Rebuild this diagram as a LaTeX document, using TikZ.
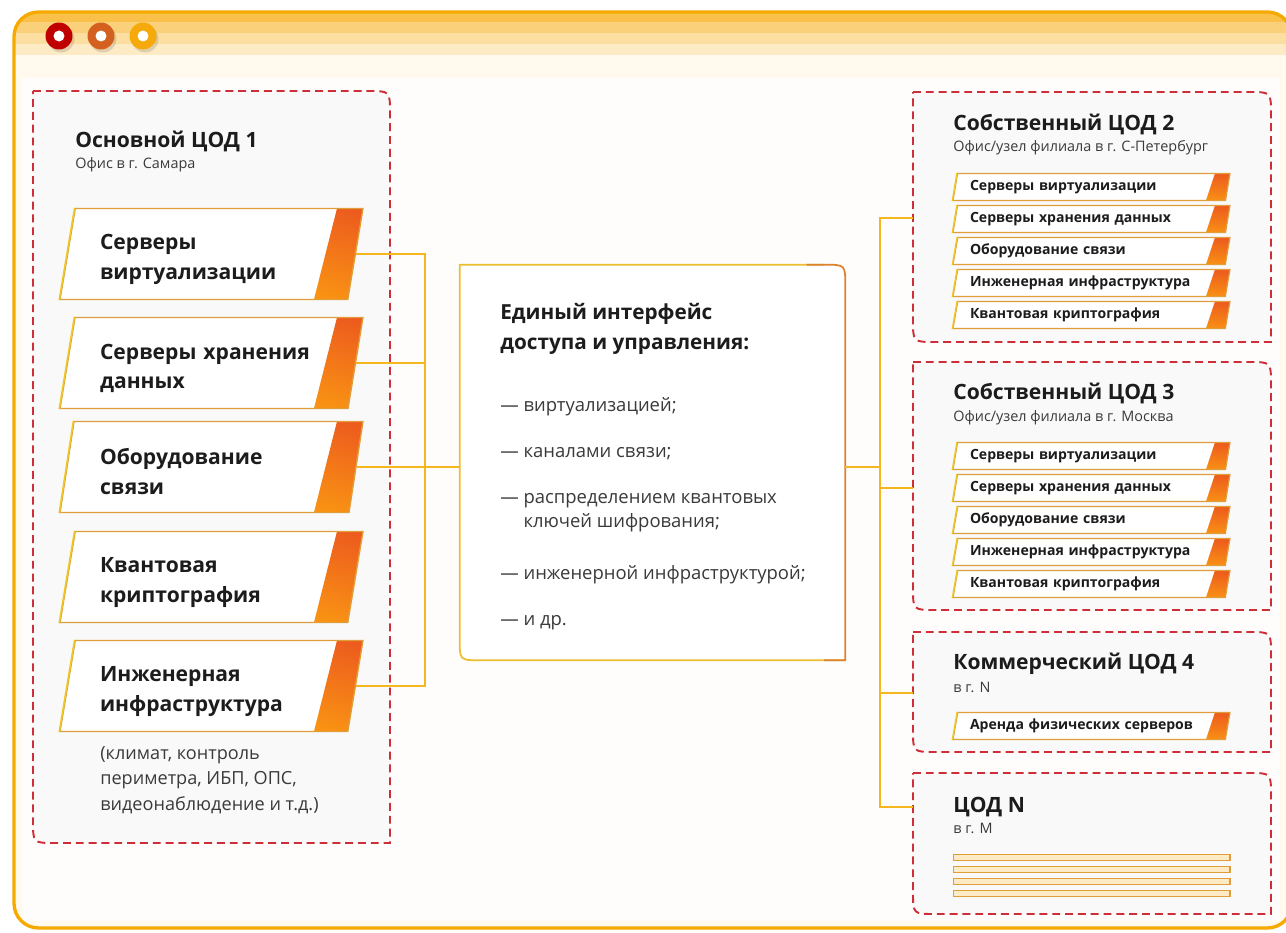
\documentclass[tikz,border=0pt]{standalone}
\usepackage{fontspec}
\setmainfont{Open Sans}
\usetikzlibrary{positioning,shapes.geometric,calc,shadings}
\definecolor{cred}{RGB}{206,46,56}
\definecolor{cbus}{RGB}{246,182,30}
\definecolor{cframe}{RGB}{246,170,0}
\definecolor{cyel}{RGB}{255,196,0}
\definecolor{cmid}{RGB}{248,140,22}
\definecolor{corg}{RGB}{236,88,30}
\definecolor{cedge}{RGB}{224,158,58}
\definecolor{cleft}{RGB}{238,200,40}
\definecolor{cgold}{RGB}{236,190,48}
\definecolor{cbrown}{RGB}{222,130,50}
\definecolor{cink}{RGB}{28,28,28}
\definecolor{cgray}{RGB}{58,58,58}
\definecolor{ccream}{RGB}{255,249,238}
\definecolor{cpanel}{RGB}{254,253,251}
\definecolor{cbox}{RGB}{249,249,249}
\definecolor{cso}{RGB}{249,193,74}
\definecolor{cst}{RGB}{250,208,122}
\definecolor{csh}{RGB}{252,223,160}
\definecolor{csf}{RGB}{253,235,198}
\definecolor{dred}{RGB}{192,0,0}
\definecolor{dbrown}{RGB}{212,96,32}
\definecolor{damber}{RGB}{245,169,10}

\begin{document}
\begin{tikzpicture}[x=0.02cm, y=-0.02cm,
    bus/.style={cbus, line width=1.7pt},
    cont/.style={draw=cred, fill=cbox, line width=1.1pt, dash pattern=on 4.5pt off 2.8pt},
    ttl/.style={anchor=base west, inner sep=0pt, text=cink, font=\bfseries\fontsize{12}{14}\selectfont},
    sub/.style={anchor=base west, inner sep=0pt, text=cgray, font=\fontsize{8.2}{9}\selectfont},
    litem/.style={trapezium, trapezium left angle=76, trapezium right angle=104, trapezium stretches body,
                  minimum width=6.06cm, minimum height=1.82cm, text width=4.46cm, inner sep=0pt, align=left,
                  draw=cedge, line width=0.8pt, fill=white, text=cink,
                  font=\bfseries\fontsize{12}{17}\selectfont, execute at begin node={\rule{0pt}{14.8pt}},
                  path picture={\shade[lower left=cyel, upper left=cmid, lower right=cmid, upper right=corg]
                    ($(path picture bounding box.north east)+(-26,0)$) -- ($(path picture bounding box.north east)+(5,0)$)
                    -- ($(path picture bounding box.south east)+(5,0)$) -- ($(path picture bounding box.south east)+(-49,0)$) -- cycle;}},
    ritem/.style={trapezium, trapezium left angle=71.6, trapezium right angle=108.4, trapezium stretches body,
                  minimum width=5.54cm, minimum height=0.54cm, text width=4.86cm, inner sep=0pt, align=left,
                  draw=cedge, line width=0.7pt, fill=white, text=cink,
                  font=\bfseries\fontsize{8}{10}\selectfont,
                  path picture={\shade[lower left=cyel, upper left=cmid, lower right=cmid, upper right=corg]
                    ($(path picture bounding box.north east)+(-15,0)$) -- ($(path picture bounding box.north east)+(5,0)$)
                    -- ($(path picture bounding box.south east)+(5,0)$) -- ($(path picture bounding box.south east)+(-24,0)$) -- cycle;}},
    thinbar/.style={trapezium, trapezium left angle=55, trapezium right angle=125, trapezium stretches body,
                  minimum width=5.54cm, minimum height=0.13cm, inner sep=0pt,
                  fill=csf, draw=cedge, line width=0.6pt}
  ]
  \useasboundingbox (0,0) rectangle (1286,933);
  \fill[white] (0,0) rectangle (1286,933);

  % window frame
  \begin{scope}
    \clip[rounded corners=14pt] (14,12) rectangle (1292,928);
    \fill[ccream] (0,0) rectangle (1292,933);
    \fill[cso] (0,12) rectangle (1292,22);
    \fill[cst] (0,22) rectangle (1292,33);
    \fill[csh] (0,33) rectangle (1292,44);
    \fill[csf] (0,44) rectangle (1292,55);
    \fill[cpanel] (22,78) rectangle (1280,921);
  \end{scope}
  \draw[cframe, line width=1.9pt, rounded corners=14pt] (14,12) rectangle (1292,928);
  \foreach \c [count=\i] in {dred,dbrown,damber} {
    \fill[black, opacity=0.12] (19+42*\i,39) circle[radius=0.27cm];
    \fill[\c] (17+42*\i,36) circle[radius=0.27cm];
    \fill[white] (17+42*\i,36) circle[radius=0.11cm];
  }

  % main data centre
  \draw[cont] (33,91) -- (368,91) .. controls (390,91) .. (390,113) -- (390,843) -- (55,843)
    .. controls (33,843) .. (33,821) -- cycle;
  \node[ttl] (t1) at (75,147) {Основной ЦОД 1};
  \node[sub] (s1) at (75,168) {Офис в г. Самара};
  \foreach \t/\y [count=\i] in {{Серверы\\виртуализации}/254, {Серверы хранения\\данных}/363,
      {Оборудование\\связи}/467, {Квантовая\\криптография}/577, {Инженерная\\инфраструктура}/686} {
    \node[litem] (L\i) at (211.5,\y) {\t};
    \draw[cleft, line width=0.9pt] (L\i.bottom left corner) -- (L\i.top left corner);
  }
  \node[anchor=north west, align=left, inner sep=0pt, text=cgray, font=\fontsize{10.3}{14.5}\selectfont]
    (note) at (100,746) {(климат, контроль\\периметра, ИБП, ОПС,\\видеонаблюдение и т.д.)};

  % unified interface
  \node[minimum width=7.7cm, minimum height=7.9cm, inner sep=0pt] (C) at (652.5,462.5) {};
  \fill[white] (C.north west) -- ([xshift=-12pt]C.north east) .. controls (C.north east) .. ([yshift=-12pt]C.north east)
    -- (C.south east) -- ([xshift=12pt]C.south west) .. controls (C.south west) .. ([yshift=12pt]C.south west) -- cycle;
  \draw[cgold, line width=1pt] ([xshift=-12pt]C.north east) -- (C.north west) -- ([yshift=12pt]C.south west)
    .. controls (C.south west) .. ([xshift=12pt]C.south west) -- (C.south east);
  \draw[cbrown, line width=1pt] ([xshift=-22pt]C.north east) -- ([xshift=-12pt]C.north east)
    .. controls (C.north east) .. ([yshift=-12pt]C.north east) -- (C.south east) -- ([xshift=-12pt]C.south east);
  \node[anchor=north west, align=left, inner sep=0pt, text=cink, font=\bfseries\fontsize{11.8}{17}\selectfont]
    (ctitle) at (500,303) {Единый интерфейс\\доступа и управления:};
  \node[anchor=north west, align=left, inner sep=0pt, text=cgray, font=\fontsize{10.5}{13.7}\selectfont]
    (clist) at (500,397) {— виртуализацией;\\[12.5pt]— каналами связи;\\[12.5pt]— распределением квантовых\\
      \hphantom{— }ключей шифрования;\\[15.9pt]— инженерной инфраструктурой;\\[12.5pt]— и др.};

  % branch data centres
  \foreach \ya/\yb in {92/342, 362/610, 632/752, 773/914}
    \draw[cont] (913,\ya) -- (1249,\ya) .. controls (1271,\ya) .. (1271,\ya+22) -- (1271,\yb) -- (935,\yb)
      .. controls (913,\yb) .. (913,\yb-22) -- cycle;
  \node[ttl] (t2) at (953,130) {Собственный ЦОД 2};
  \node[sub] (s2) at (953,151) {Офис/узел филиала в г. С-Петербург};
  \node[ttl] (t3) at (953,399) {Собственный ЦОД 3};
  \node[sub] (s3) at (953,421) {Офис/узел филиала в г. Москва};
  \node[ttl] (t4) at (953,669) {Коммерческий ЦОД 4};
  \node[sub] (s4) at (953,692) {в г. N};
  \node[ttl] (t5) at (953,812) {ЦОД N};
  \node[sub] (s5) at (953,833) {в г. M};
  \foreach \t [count=\i] in {Серверы виртуализации, Серверы хранения данных, Оборудование связи,
      Инженерная инфраструктура, Квантовая криптография} {
    \node[ritem] (A\i) at (1091.5,155+32*\i) {\t};
    \draw[cleft, line width=0.8pt] (A\i.bottom left corner) -- (A\i.top left corner);
  }
  \foreach \t [count=\i] in {Серверы виртуализации, Серверы хранения данных, Оборудование связи,
      Инженерная инфраструктура, Квантовая криптография} {
    \node[ritem] (B\i) at (1091.5,424+32*\i) {\t};
    \draw[cleft, line width=0.8pt] (B\i.bottom left corner) -- (B\i.top left corner);
  }
  \node[ritem] (D1) at (1091.5,726) {Аренда физических серверов};
  \draw[cleft, line width=0.8pt] (D1.bottom left corner) -- (D1.top left corner);
  \foreach \i in {1,...,4}
    \node[thinbar] (N\i) at (1091.5,845.5+12*\i) {};

  % connectors
  \coordinate (lb) at (425,0);
  \coordinate (rb) at (880,0);
  \coordinate (dc2) at (913,218);
  \coordinate (dc3) at (913,488);
  \coordinate (dc4) at (913,693);
  \coordinate (dcn) at (913,807);
  \draw[bus] (L1.east) -- (L1.east -| lb) -- (L5.east -| lb) -- (L5.east);
  \draw[bus] (L2.east) -- (L2.east -| lb);
  \draw[bus] (L3.east) -- (L3.east -| C.west);
  \draw[bus] (C.east |- L3.east) -- (L3.east -| rb);
  \draw[bus] (dc2) -- (dc2 -| rb) -- (dcn -| rb) -- (dcn);
  \draw[bus] (dc3) -- (dc3 -| rb);
  \draw[bus] (dc4) -- (dc4 -| rb);
\end{tikzpicture}
\end{document}
